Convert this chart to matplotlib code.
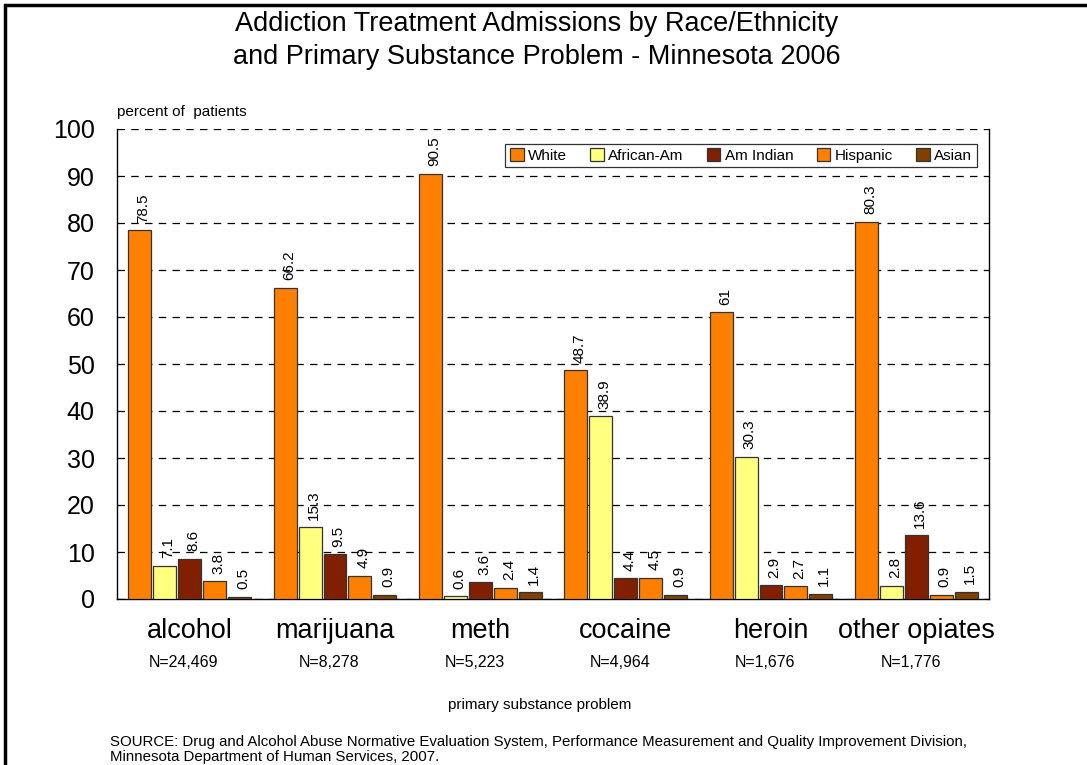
import numpy as np
import matplotlib.pyplot as plt
from matplotlib.patches import Rectangle

plt.rcParams['font.family'] = ['Liberation Sans', 'DejaVu Sans']

substances = ['alcohol', 'marijuana', 'meth', 'cocaine', 'heroin', 'other opiates']
n_labels = ['N=24,469', 'N=8,278', 'N=5,223', 'N=4,964', 'N=1,676', 'N=1,776']
groups = ['White', 'African-Am', 'Am Indian', 'Hispanic', 'Asian']

white = [78.5, 66.2, 90.5, 48.7, 61, 80.3]
african_am = [7.1, 15.3, 0.6, 38.9, 30.3, 2.8]
am_indian = [8.6, 9.5, 3.6, 4.4, 2.9, 13.6]
hispanic = [3.8, 4.9, 2.4, 4.5, 2.7, 0.9]
asian = [0.5, 0.9, 1.4, 0.9, 1.1, 1.5]

colors = ['#FF8000', '#FFFF80', '#802000', '#FF8000', '#804000']

fig = plt.figure(figsize=(10.87, 7.65), dpi=100)
ax = fig.add_axes([117/1087, 1 - 599/765, (989-117)/1087, (599-129)/765])

x = np.arange(len(substances))
step = 0.171
width = 0.158
series = [white, african_am, am_indian, hispanic, asian]
for i, (vals, name) in enumerate(zip(series, groups)):
    pos = x + (i - 2) * step
    ax.bar(pos, vals, width=width, color=colors[i], edgecolor='#333333',
           linewidth=0.9, label=name, zorder=3)
    for px, v in zip(pos, vals):
        ax.text(px + 0.025, v + 1.6, '%g' % v, rotation=90, ha='center',
                va='bottom', fontsize=11, zorder=4)

ax.set_xlim(-0.5, len(substances) - 0.5)
ax.set_ylim(0, 100)
ax.set_yticks(range(0, 101, 10))
ax.set_xticks(x)
ax.set_xticklabels(substances, fontsize=19.5)
ax.tick_params(axis='both', length=0)
ax.tick_params(axis='y', labelsize=18, pad=16)
ax.tick_params(axis='x', pad=14)
ax.yaxis.grid(True, linestyle=(0, (6, 5)), color='black', linewidth=0.9, zorder=0)
ax.spines['top'].set_visible(False)
for s in ['left', 'right', 'bottom']:
    ax.spines[s].set_color('black')
    ax.spines[s].set_linewidth(1.0)

for xi, n in zip(x, n_labels):
    ax.text(xi - 0.04, -13.5, n, ha='center', va='center', fontsize=11.5)

leg = ax.legend(loc='upper right', ncol=5, fontsize=11, frameon=True,
                fancybox=False, edgecolor='black', handlelength=0.9,
                handleheight=0.9, handletextpad=0.3, columnspacing=1.5,
                borderpad=0.3, bbox_to_anchor=(0.995, 0.985))
leg.get_frame().set_linewidth(0.9)

fig.text(537/1087, 1 - 24/765, 'Addiction Treatment Admissions by Race/Ethnicity',
         ha='center', va='center', fontsize=19.5)
fig.text(537/1087, 1 - 57/765, 'and Primary Substance Problem - Minnesota 2006',
         ha='center', va='center', fontsize=19.5)
fig.text(117/1087, 1 - 112/765, 'percent of  patients', ha='left', va='center',
         fontsize=11)
fig.text(540/1087, 1 - 705/765, 'primary substance problem', ha='center',
         va='center', fontsize=11)
fig.text(110/1087, 1 - 742/765,
         'SOURCE: Drug and Alcohol Abuse Normative Evaluation System, Performance '
         'Measurement and Quality Improvement Division,',
         ha='left', va='center', fontsize=10.8)
fig.text(110/1087, 1 - 757/765, 'Minnesota Department of Human Services, 2007.',
         ha='left', va='center', fontsize=10.8)

# outer frame, running off the right and bottom edges
fig.patches.append(Rectangle((5/1087, -0.1), 1.2, 1 - 5/765 + 0.1,
                             transform=fig.transFigure, fill=False,
                             edgecolor='black', linewidth=2.5))

fig.savefig('out.png', dpi=100)
